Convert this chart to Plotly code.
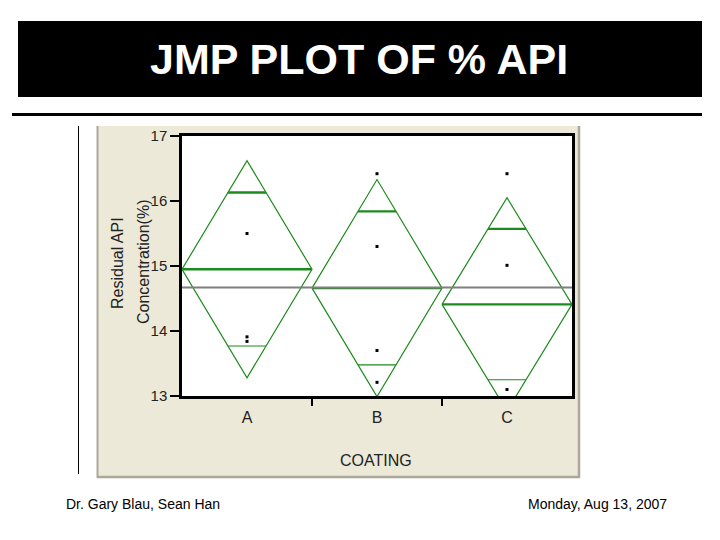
import math
import plotly.graph_objects as go

# ---- data ----
categories = ["A", "B", "C"]
group_means = [14.95, 14.66, 14.41]
ci_upper = [16.62, 16.33, 16.05]
grand_mean = 14.67
points_A = [15.50, 13.91, 13.84]
points_B = [16.42, 15.30, 13.70, 13.21]
points_C = [16.42, 15.01, 13.10]
y_ticks = [13, 14, 15, 16, 17]

GREEN = "#1c8a1c"
JMP_FONT = "Liberation Sans, Arial, sans-serif"

fig = go.Figure()

# diamonds, mean lines, overlap marks
for i, cat in enumerate(categories):
    m = group_means[i]
    h = ci_upper[i] - m
    left, center, right = i, i + 0.5, i + 1
    fig.add_trace(go.Scatter(
        x=[left, center, right, center, left],
        y=[m, m + h, m, m - h, m],
        mode="lines", line=dict(color=GREEN, width=1.2),
        hoverinfo="skip", showlegend=False))
    fig.add_trace(go.Scatter(
        x=[left, right], y=[m, m], mode="lines",
        line=dict(color=GREEN, width=2.3), hoverinfo="skip", showlegend=False))
    d = h / math.sqrt(2)
    half = 0.5 * (1 - d / h)
    fig.add_trace(go.Scatter(
        x=[center - half, center + half], y=[m + d, m + d], mode="lines",
        line=dict(color=GREEN, width=2.3), hoverinfo="skip", showlegend=False))
    fig.add_trace(go.Scatter(
        x=[center - half, center + half], y=[m - d, m - d], mode="lines",
        line=dict(color=GREEN, width=1.2), hoverinfo="skip", showlegend=False))

# grand mean
fig.add_trace(go.Scatter(
    x=[0, len(categories)], y=[grand_mean, grand_mean], mode="lines",
    line=dict(color="#7f7f7f", width=2), hoverinfo="skip", showlegend=False))

# points
for i, pts in enumerate([points_A, points_B, points_C]):
    fig.add_trace(go.Scatter(
        x=[i + 0.5] * len(pts), y=pts, mode="markers",
        marker=dict(symbol="square", size=3, color="black", line=dict(width=0)),
        showlegend=False, cliponaxis=False))

W, H = 720, 540

def px(x):
    return x / W

def py(y):
    return 1 - y / H

shapes = [
    # title box
    dict(type="rect", xref="paper", yref="paper", x0=px(18), x1=px(702), y0=py(97), y1=py(21),
         fillcolor="black", line=dict(width=0), layer="below"),
    # rule under title
    dict(type="line", xref="paper", yref="paper", x0=px(12), x1=px(702), y0=py(114.5), y1=py(114.5),
         line=dict(color="black", width=3)),
    # vertical rule
    dict(type="line", xref="paper", yref="paper", x0=px(78.5), x1=px(78.5), y0=py(126), y1=py(474),
         line=dict(color="black", width=1)),
    # JMP beige panel
    dict(type="rect", xref="paper", yref="paper", x0=px(97), x1=px(580), y0=py(478), y1=py(126),
         fillcolor="#ECE9D8", line=dict(width=0), layer="below"),
    # white plot area
    dict(type="rect", xref="paper", yref="paper", x0=px(182), x1=px(572), y0=py(396), y1=py(136),
         fillcolor="white", line=dict(width=0), layer="below"),
    dict(type="line", xref="paper", yref="paper", x0=px(97.5), x1=px(97.5), y0=py(126), y1=py(478),
         line=dict(color="#ACA899", width=2)),
    dict(type="line", xref="paper", yref="paper", x0=px(579), x1=px(579), y0=py(126), y1=py(478),
         line=dict(color="#ACA899", width=2.5)),
    dict(type="line", xref="paper", yref="paper", x0=px(97), x1=px(580), y0=py(477), y1=py(477),
         line=dict(color="#ACA899", width=2.5)),
]

annotations = [
    dict(text="<b>JMP PLOT OF % API</b>", xref="paper", yref="paper", x=px(359), y=py(59),
         showarrow=False, xanchor="center", yanchor="middle",
         font=dict(family="Liberation Sans, Arial", size=43, color="white")),
    dict(text="Dr. Gary Blau, Sean Han", xref="paper", yref="paper", x=px(64), y=py(504),
         showarrow=False, xanchor="left", yanchor="middle",
         font=dict(family="Liberation Sans, Arial", size=14, color="black")),
    dict(text="Monday, Aug 13, 2007", xref="paper", yref="paper", x=px(669), y=py(504),
         showarrow=False, xanchor="right", yanchor="middle",
         font=dict(family="Liberation Sans, Arial", size=14, color="black")),
    dict(text="Residual API", xref="paper", yref="paper", x=px(117), y=py(263),
         showarrow=False, xanchor="center", yanchor="middle", textangle=-90,
         font=dict(family=JMP_FONT, size=16, color="#222")),
    dict(text="Concentration(%)", xref="paper", yref="paper", x=px(143), y=py(262),
         showarrow=False, xanchor="center", yanchor="middle", textangle=-90,
         font=dict(family=JMP_FONT, size=16, color="#222")),
    dict(text="COATING", xref="paper", yref="paper", x=px(376), y=py(460),
         showarrow=False, xanchor="center", yanchor="middle",
         font=dict(family=JMP_FONT, size=16, color="#222")),
]

fig.update_layout(
    width=W, height=H,
    margin=dict(l=0, r=0, t=0, b=0, pad=0, autoexpand=False),
    paper_bgcolor="white", plot_bgcolor="white",
    shapes=shapes, annotations=annotations,
    showlegend=False,
    xaxis=dict(
        domain=[px(182), px(572)], range=[0, len(categories)],
        tickvals=[i + 0.5 for i in range(len(categories))], ticktext=categories,
        ticks="outside", ticklen=5, tickcolor="rgba(0,0,0,0)",
        minor=dict(tickmode="array", tickvals=list(range(1, len(categories))),
                   ticks="outside", ticklen=7, tickwidth=2, tickcolor="black"),
        showgrid=False, zeroline=False, automargin=False,
        showline=True, linecolor="black", linewidth=2.5, mirror=True,
        tickfont=dict(family=JMP_FONT, size=16, color="#222"),
        fixedrange=True,
    ),
    yaxis=dict(
        domain=[py(396), py(136)], range=[13, 17],
        tickvals=y_ticks, ticks="outside", ticklen=9, tickwidth=1.5, tickcolor="black",
        showgrid=False, zeroline=False, automargin=False,
        showline=True, linecolor="black", linewidth=2.5, mirror=True,
        tickfont=dict(family=JMP_FONT, size=15, color="#222"),
        fixedrange=True,
    ),
)

fig.write_html("out.html", config={"displayModeBar": False},
               post_script="document.body.style.margin='0px';")
